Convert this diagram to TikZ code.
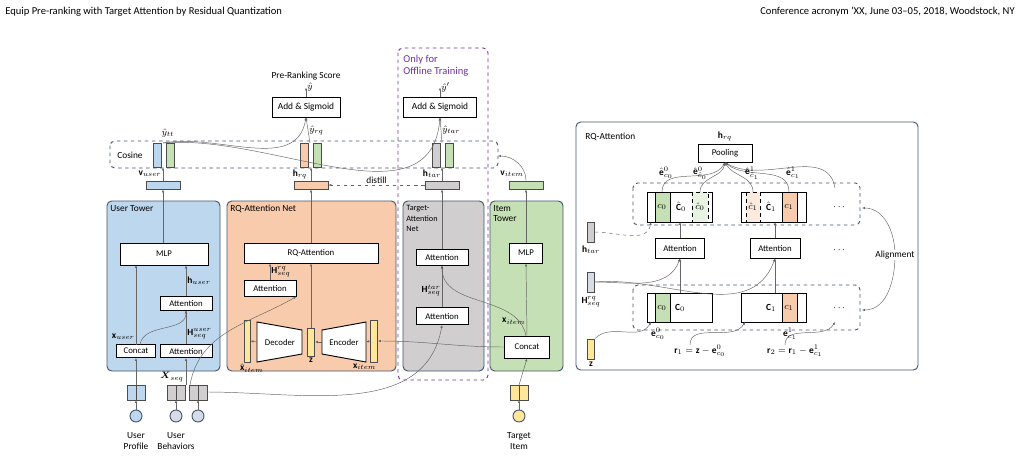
\documentclass[tikz,border=0pt]{standalone}
\usepackage{fontspec}
\setmainfont{Carlito}
\usepackage{amsmath}
\usetikzlibrary{arrows.meta,positioning,calc,shapes.geometric}
\definecolor{ublue}{HTML}{BDD7EE}
\definecolor{rqorange}{HTML}{F8CBAD}
\definecolor{tgray}{HTML}{D0CECE}
\definecolor{igreen}{HTML}{C5E0B4}
\definecolor{iyellow}{HTML}{FFE699}
\definecolor{navy}{HTML}{44546A}
\definecolor{purp}{HTML}{7030A0}
\definecolor{bgray}{HTML}{D6DCE5}
\tikzset{
  blk/.style={draw, thick, fill=white, inner sep=0pt},
  tower/.style={draw=navy, thick, rounded corners=4pt},
  bar/.style={draw=black!70, thick},
  arr/.style={-{Latex[length=2.5pt,width=2pt]}, draw=black!60, thin},
  lab/.style={font=\fontsize{7.5}{8.5}\selectfont, align=center, inner sep=1pt},
  grp/.style={draw=navy, dashed, thick, rounded corners=4pt},
}
\newcommand{\blkat}[5]{\node[blk, lab, minimum width=#4*0.03cm, minimum height=#5*0.03cm] (#1) at (#2,#3) {};}
\begin{document}
\begin{tikzpicture}[x=0.03cm, y=-0.03cm, every node/.style={font=\fontsize{8}{9}\selectfont, inner sep=1pt}]
\useasboundingbox (0,0) rectangle (1020,456);
% header
\node[anchor=west, font=\fontsize{9}{10}\selectfont] at (4,12) {Equip Pre-ranking with Target Attention by Residual Quantization};
\node[anchor=east, font=\fontsize{9}{10}\selectfont] at (1016,12) {Conference acronym 'XX, June 03--05, 2018, Woodstock, NY};
% towers
\draw[tower, fill=ublue] (107,201) rectangle (220,371);
\draw[tower, fill=rqorange] (227,201) rectangle (396,371);
\draw[tower, fill=tgray] (403,201) rectangle (484,371);
\draw[tower, fill=igreen] (490,201) rectangle (563,371);
\draw[purp, dashed, thick, rounded corners=4pt] (398,48) rectangle (488,380);
\node[text=purp, anchor=west, align=left, font=\fontsize{9}{10}\selectfont] at (402,66) {Only for\\Offline Training};
\node[anchor=north west] at (109,204) {User Tower};
\node[anchor=north west] at (229,204) {RQ-Attention Net};
\node[anchor=north west, align=left, font=\fontsize{7}{9}\selectfont] at (405,204) {Target-\\Attention\\Net};
\node[anchor=north west, align=left] at (492,204) {Item\\Tower};
% cosine group
\draw[grp] (110,141) rectangle (498,168);
\node at (130,155) {Cosine};
\foreach \x/\c in {157/ublue,170/igreen,304/rqorange,317/igreen,436/tgray,449/igreen}
  \draw[bar, fill=\c] (\x-4,143) rectangle (\x+4,167);
% top
\blkat{addl}{306}{107}{68}{20}\node at (addl) {Add \& Sigmoid};
\blkat{addr}{440}{107}{73}{20}\node at (addr) {Add \& Sigmoid};
\node (score) at (306,76) {Pre-Ranking Score};
\draw[arr] (addl.north) -- ++(0,-9) node[right] {$\hat y$};
\draw[arr] (addr.north) -- ++(0,-9) node[right] {$\hat y'$};
\draw[arr] (163,143) to[out=10,in=-100] (addl.south);
\node at (168,133) {$\hat y_{tt}$};
\draw[arr] (310,143) -- node[right] {$\hat y_{rq}$} (addl.south);
\draw[arr] (163,143) to[out=5,in=-95] (addr.south);
\draw[arr] (442,143) -- node[right] {$\hat y_{tar}$} (addr.south);
% output vectors
\foreach \n/\x/\c in {vuser/163/ublue,hrq/311/rqorange,htar/442/tgray,vitem/526/igreen}
  \node[bar, fill=\c, minimum width=34*0.03cm, minimum height=8*0.03cm, inner sep=0pt] (\n) at (\x,185) {};
\node at (150,174) {$\mathbf v_{user}$};
\node at (300,174) {$\mathbf h_{rq}$};
\node at (432,174) {$\mathbf h_{tar}$};
\node at (512,174) {$\mathbf v_{item}$};
\foreach \n in {vuser,hrq,htar} \draw[arr] (\n.north) -- ++(0,-13);
\draw[arr] (vitem.north) to[out=90,in=0] (498,156);
\draw[arr, dashed] (htar.west) -- node[above] {distill} (hrq.east);
% user tower
\blkat{umlp}{164}{254}{88}{22}\node[lab] at (umlp) {MLP};
\blkat{uatt}{186}{303}{52}{14}\node[lab] at (uatt) {Attention};
\blkat{ucat}{136}{351}{39}{13}\node[lab] at (ucat) {Concat};
\blkat{usatt}{186}{351}{52}{13}\node[lab] at (usatt) {Attention};
\draw[arr] (vuser.south |- umlp.north) -- (vuser.south);
\draw[arr] (uatt.north) -- node[right] {$\mathbf h_{user}$} (uatt.north |- umlp.south);
\draw[arr] (136,344.5) -- node[left, pos=0.1] {$\mathbf x_{user}$} (136,265);
\draw[arr] (usatt.north) -- node[right, pos=0.3] {$\mathbf H^{user}_{seq}$} (uatt.south);
\draw[arr] (140,344.5) to[out=80,in=-90] (uatt.south);
% rq net
\blkat{rqatt}{311}{253}{134}{20}\node[lab] at (rqatt) {RQ-Attention};
\blkat{ratt}{270}{288}{52}{16}\node[lab] at (ratt) {Attention};
\draw[arr] (rqatt.north) -- (hrq.south);
\draw[arr] (ratt.north) -- node[right] {$\mathbf H^{rq}_{seq}$} (ratt.north |- rqatt.south);
\node[bar, fill=iyellow, minimum width=6*0.03cm, minimum height=42*0.03cm, inner sep=0pt] (xhat) at (247,341) {};
\node[bar, fill=iyellow, minimum width=7*0.03cm, minimum height=28*0.03cm, inner sep=0pt] (z) at (311,342) {};
\node[bar, fill=iyellow, minimum width=7*0.03cm, minimum height=42*0.03cm, inner sep=0pt] (xit) at (374,341) {};
\draw[thick, fill=white] (257,322) -- (302,330) -- (302,354) -- (257,362) -- cycle;
\draw[thick, fill=white] (322,330) -- (366,322) -- (366,362) -- (322,354) -- cycle;
\node[lab] (dec) at (280,342) {Decoder};
\node[lab] (enc) at (344,342) {Encoder};
\node[below=0pt of xhat, xshift=4pt] {$\hat{\mathbf x}_{item}$};
\node[below=0pt of z] {$\mathbf z$};
\node[below=0pt of xit, xshift=-8pt] {$\mathbf x_{item}$};
\draw[arr] (z.north) -- (rqatt.south);
\draw[arr] (257,342) -- (xhat.east);
\draw[arr] (322,342) -- (z.east);
\draw[arr] (xit.west) -- (366,342);
% target net
\blkat{tatt}{442}{257}{52}{16}\node[lab] at (tatt) {Attention};
\blkat{tsatt}{442}{316}{52}{17}\node[lab] at (tsatt) {Attention};
\draw[arr] (tatt.north) -- (htar.south);
\draw[arr] (tsatt.north) -- node[left, pos=0.4] {$\mathbf H^{tar}_{seq}$} (tatt.south);
% item tower
\blkat{imlp}{526}{253}{33}{20}\node[lab] at (imlp) {MLP};
\blkat{icat}{527}{347}{45}{22}\node[lab] at (icat) {Concat};
\draw[arr] (imlp.north) -- (vitem.south);
\draw[arr] (icat.north) -- node[left, pos=0.2] {$\mathbf x_{item}$} (imlp.south);
\draw[arr] (icat.west) to[out=180,in=0] (xit.east);
\draw[arr] (526,336) to[out=100,in=-90] (tatt.south);
% inputs
\foreach \n/\x/\c/\d in {pr/136/ublue/ublue,b1/176/tgray/bgray,b2/198/tgray/bgray,ti/519/iyellow/iyellow}{
  \draw[bar, fill=\c] (\x-9,385) rectangle (\x,400);
  \draw[bar, fill=\c] (\x,385) rectangle (\x+9,400);
  \node[circle, draw=navy, thick, fill=\d, minimum size=12*0.03cm, inner sep=0pt] (\n) at (\x,416) {};
  \draw[arr] (\n.north) -- (\x,400);
}
\draw[arr] (136,385) -- (ucat.south);
\draw[arr] (186,385) -- (usatt.south);
\node at (172,377) {$\boldsymbol X_{seq}$};
\draw[arr] (519,385) -- (icat.south);
\draw[arr] (207,392) to[out=0,in=-100] (tsatt.south);
\draw[arr] (190,385) to[out=80,in=-150] (ratt.south east);
\node[align=center] at (136,441) {User\\Profile};
\node[align=center] at (176,441) {User\\Behaviors};
\node[align=center] at (519,441) {Target\\Item};
% right panel
\draw[tower] (576,122) rectangle (918,370);
\node[anchor=west] at (584,137) {RQ-Attention};
\blkat{pool}{725}{153}{54}{18}\node[lab] at (pool) {Pooling};
\node[above=1pt of pool] {$\mathbf h_{rq}$};
\draw[grp] (633,183) rectangle (860,225);
\draw[grp] (633,285) rectangle (860,330);
\draw[thick, fill=white] (647,192) rectangle (712,222);
\draw[thick, fill=igreen] (655,192) rectangle (670,222);
\draw[thick, dashed, fill=igreen!40] (692,192) rectangle (708,222);
\node at (662,207) {$c_0$}; \node at (681,207) {$\hat{\mathbf C}_0$}; \node at (700,207) {$\hat c_0$};
\draw[thick, fill=white] (741,192) rectangle (806,222);
\draw[thick, dashed, fill=rqorange!40] (746,192) rectangle (760,222);
\draw[thick, fill=rqorange] (782,192) rectangle (797,222);
\node at (753,207) {$\hat c_1$}; \node at (771,207) {$\hat{\mathbf C}_1$}; \node at (789,207) {$c_1$};
\draw[thick, fill=white] (647,293) rectangle (712,322);
\draw[thick, fill=igreen] (655,293) rectangle (670,322);
\node at (662,308) {$c_0$}; \node at (680,308) {$\mathbf C_0$};
\draw[thick, fill=white] (741,293) rectangle (806,322);
\draw[thick, fill=rqorange] (782,293) rectangle (797,322);
\node at (771,308) {$\mathbf C_1$}; \node at (789,308) {$c_1$};
\foreach \y in {207,250,308} \node at (840,\y) {$\cdots$};
\blkat{ra1}{680}{248}{49}{20}\node[lab] at (ra1) {Attention};
\blkat{ra2}{775}{248}{50}{20}\node[lab] at (ra2) {Attention};
\draw[arr] (680,293) -- (ra1.south); \draw[arr] (ra1.north) -- (680,222);
\draw[arr] (775,293) -- (ra2.south); \draw[arr] (ra2.north) -- (775,222);
\node[bar, fill=tgray, minimum width=7*0.03cm, minimum height=20*0.03cm, inner sep=0pt] (rhtar) at (591,232) {};
\node[bar, fill=bgray, minimum width=7*0.03cm, minimum height=20*0.03cm, inner sep=0pt] (rhseq) at (591,282) {};
\node[bar, fill=iyellow, minimum width=7*0.03cm, minimum height=20*0.03cm, inner sep=0pt] (rz) at (591,349) {};
\node[below=2pt of rhtar] {$\mathbf h_{tar}$};
\node[below=2pt of rhseq] {$\mathbf H^{rq}_{seq}$};
\node[below=1pt of rz] {$\mathbf z$};
\draw[arr, dashed] (rhtar.east) to[out=0,in=-100] (651,222);
\draw[arr] (rhseq.east) to[out=0,in=-110] (ra1.south);
\draw[arr] (rhseq.east) to[out=5,in=-110] (ra2.south);
\draw[arr] (rz.north east) to[out=45,in=-120] (651,322);
\draw[arr] (690,345) to[out=90,in=-120] (745,322);
\draw[arr] (785,345) to[out=90,in=-120] (835,322);
\node at (700,351) {$\mathbf r_1 = \mathbf z - \mathbf e^0_{c_0}$};
\node at (795,351) {$\mathbf r_2 = \mathbf r_1 - \mathbf e^1_{c_1}$};
\node at (658,334) {$\mathbf e^0_{c_0}$};
\node at (790,334) {$\mathbf e^1_{c_1}$};
\draw[arr] (662,192) to[out=90,in=-120] (pool.south);
\draw[arr] (700,192) to[out=90,in=-100] (pool.south);
\draw[arr] (753,192) to[out=90,in=-60] (pool.south);
\draw[arr] (789,192) to[out=90,in=-40] (pool.south);
\draw[arr] (835,188) to[out=100,in=-30] (pool.south);
\node at (666,173) {$\hat{\mathbf e}^0_{c_0}$};
\node at (700,173) {$\hat{\mathbf e}^0_{\hat c_0}$};
\node at (752,173) {$\hat{\mathbf e}^1_{\hat c_1}$};
\node at (793,173) {$\hat{\mathbf e}^1_{c_1}$};
\draw[arr, {Latex[length=2.5pt,width=2pt]}-{Latex[length=2.5pt,width=2pt]}] (862,208) to[out=0,in=90] (895,255) to[out=-90,in=0] (862,310);
\node[fill=white] at (895,255) {Alignment};
\end{tikzpicture}
\end{document}
